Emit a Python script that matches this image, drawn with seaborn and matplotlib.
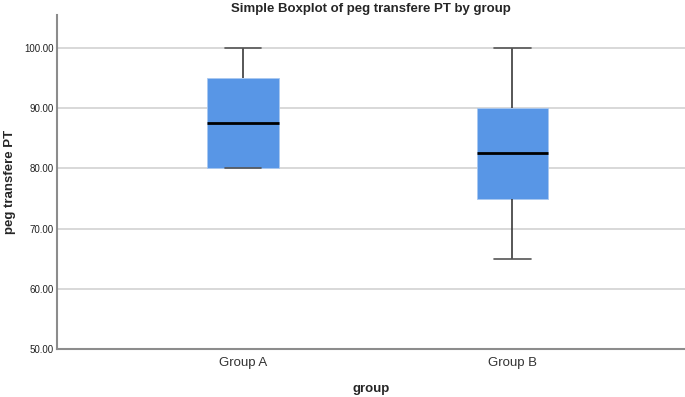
import matplotlib
matplotlib.use("Agg")
import matplotlib.pyplot as plt
import pandas as pd
import seaborn as sns

# observations per group (chosen to reproduce the plotted quartiles)
groups = ["Group A", "Group B"]
group_a = [80, 80, 80, 95, 95, 100]
group_b = [65, 75, 75, 90, 90, 100]
y_ticks = [50, 60, 70, 80, 90, 100]

df = pd.DataFrame({
    "group": ["Group A"] * len(group_a) + ["Group B"] * len(group_b),
    "peg transfere PT": group_a + group_b,
})

sns.set_theme(style="white")
plt.rcParams["font.family"] = ["Liberation Sans", "DejaVu Sans"]

fig = plt.figure(figsize=(6.85, 3.97), dpi=100)
ax = fig.add_axes([0.083, 0.121, 0.917, 0.841])

for y in y_ticks[1:]:
    ax.axhline(y, color="#d6d6d6", lw=1.3, zorder=0)

sns.boxplot(data=df, x="group", y="peg transfere PT", order=groups,
            color="#5896e6", saturation=1, width=0.265, whis=1.5,
            boxprops=dict(edgecolor="#a9c8f0", linewidth=0.6),
            medianprops=dict(color="black", linewidth=2),
            whiskerprops=dict(color="#3a3a3a", linewidth=1.2),
            capprops=dict(color="#555555", linewidth=1.2),
            capwidths=0.134, showfliers=False, ax=ax, zorder=2)

ax.set_xlim(-0.69, 1.64)
ax.set_ylim(50, 105.5)
ax.set_yticks(y_ticks)
ax.set_yticklabels([f"{v:.2f}" for v in y_ticks], fontsize=7, color="#222222")
ax.tick_params(axis="y", length=0, pad=2)
ax.tick_params(axis="x", length=0, pad=6, labelsize=9.5, labelcolor="#333333")

ax.set_title("Simple Boxplot of peg transfere PT by group", fontsize=9.5,
             fontweight="bold", pad=2)
ax.set_xlabel("group", fontsize=9.5, fontweight="bold", labelpad=10)
ax.set_ylabel("peg transfere PT", fontsize=9.5, fontweight="bold", labelpad=6)

for side in ("top", "right"):
    ax.spines[side].set_visible(False)
for side in ("left", "bottom"):
    ax.spines[side].set_color("#8c8c8c")
    ax.spines[side].set_linewidth(1.5)

fig.savefig("out.png", dpi=100)
